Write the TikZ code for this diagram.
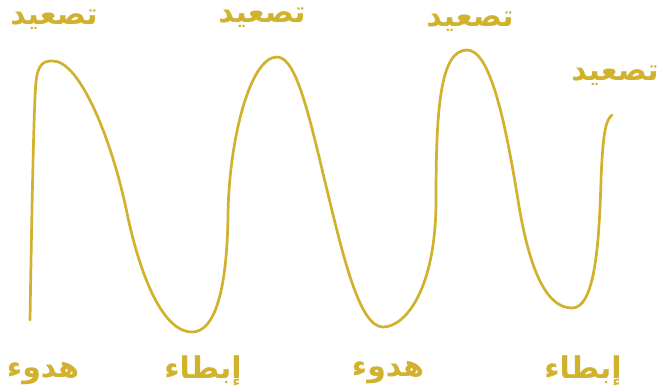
\documentclass[tikz,border=0pt]{standalone}
\usepackage{fontspec}
\usepackage{xcolor}
\usepackage{tikz}
\newfontfamily\arabicfont[Script=Arabic]{DejaVu Sans}
\TeXXeTstate=1
\definecolor{gold}{HTML}{D1B22E}

\begin{document}
\begin{tikzpicture}[x=1pt, y=-1pt,
    phase/.style={text=gold, font=\arabicfont\bfseries\fontsize{30}{33}\selectfont, inner sep=0pt}]
    \useasboundingbox (0,0) rectangle (660,386);

    % Draw the wave
    \draw[gold, line width=2.7pt, line cap=round]
        (30,320) .. controls (32,200) and (34,100) .. (36,82)
        .. controls (38,62) and (45,61) .. (53,61)
        .. controls (80,61) and (112,140) .. (127,213)
        .. controls (137.7,265) and (160,332) .. (192,332)
        .. controls (215,332) and (227,290) .. (228,215)
        .. controls (229,140) and (250,57) .. (277,57)
        .. controls (297,57) and (310,120) .. (327,190)
        .. controls (344,260) and (360,327) .. (383,327)
        .. controls (405,327) and (436,290) .. (436,200)
        .. controls (436,110) and (440,50) .. (467,50)
        .. controls (490,50) and (505,120) .. (518,200)
        .. controls (530,275) and (548,308) .. (572,308)
        .. controls (594,308) and (599,250) .. (601,180)
        .. controls (603,130) and (606,120) .. (612,115);

    % Top labels
    \node[phase] (esc1) at (54,20) {\beginR تصعيد\endR};
    \node[phase] (esc2) at (262,18) {\beginR تصعيد\endR};
    \node[phase] (esc3) at (470,22) {\beginR تصعيد\endR};
    \node[phase] (esc4) at (615,76) {\beginR تصعيد\endR};

    % Bottom labels
    \node[phase] (calm1) at (43,374) {\beginR هدوء\endR};
    \node[phase] (slow1) at (203,371) {\beginR إبطاء\endR};
    \node[phase] (calm2) at (388,373) {\beginR هدوء\endR};
    \node[phase] (slow2) at (583,371) {\beginR إبطاء\endR};
\end{tikzpicture}
\end{document}
